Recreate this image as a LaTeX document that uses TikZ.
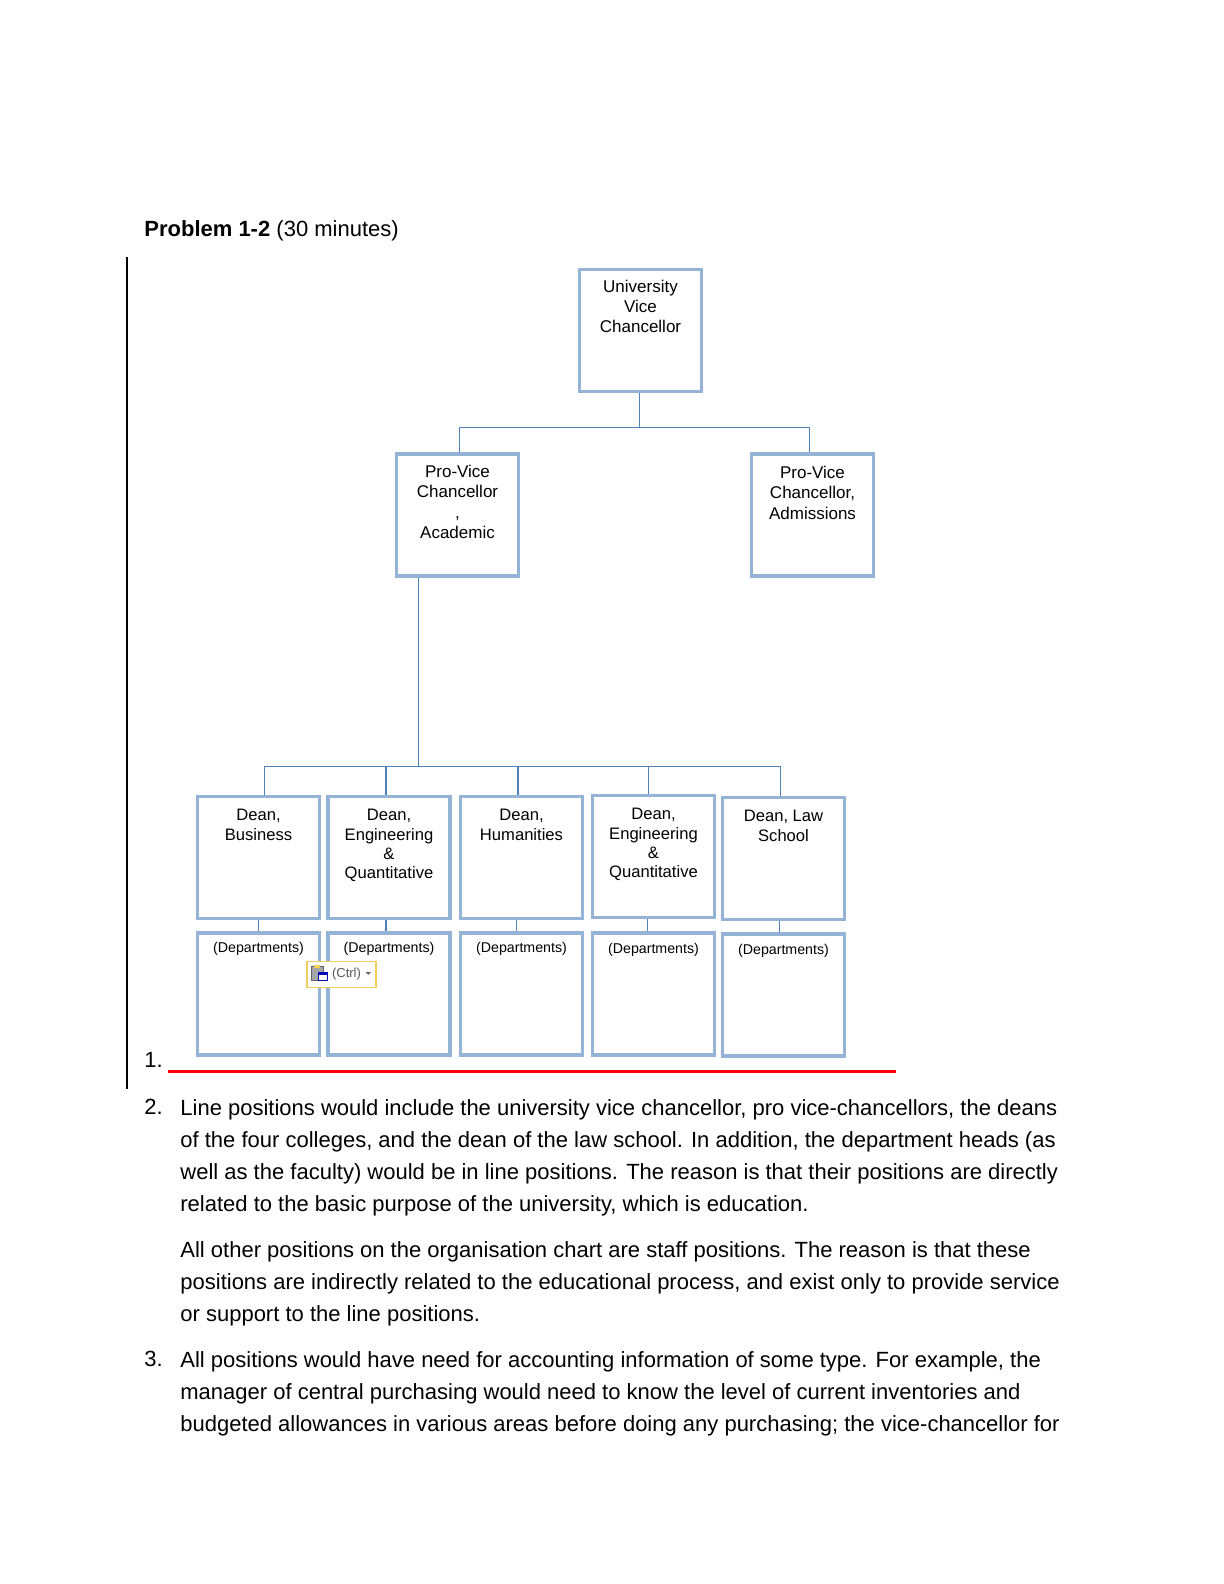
\documentclass[tikz,border=0pt]{standalone}
\usepackage{fontspec}
\setmainfont{Liberation Sans}
\usepackage{xcolor}
\usetikzlibrary{arrows.meta, positioning, calc}
\definecolor{boxblue}{HTML}{95B3D7}
\definecolor{linkblue}{HTML}{4F81BD}
\definecolor{ctrlyellow}{HTML}{F2CF5B}
\newcommand{\boxlines}[4]{\parbox[c][58pt][t]{60pt}{\centering\fontsize{#1}{#2}\selectfont\vspace*{#3}#4}}

\begin{document}
\begin{tikzpicture}[x=0.5pt, y=-0.5pt, node distance=65pt, auto]
\tikzstyle{orgbox}=[rectangle, draw=boxblue, line width=1.7pt, fill=white,
  minimum width=61pt, minimum height=61pt, inner sep=0pt]
\tikzstyle{link}=[draw=linkblue, line width=0.5pt]
\tikzstyle{thicklink}=[draw=linkblue, line width=1pt]
\tikzstyle{bodytext}=[anchor=north west, inner sep=0pt, align=left,
  font=\fontsize{11}{16.1}\selectfont]

\useasboundingbox (0,0) rectangle (1224,1584);

\node (title) [bodytext] at (144,220) {\textbf{Problem 1-2} (30 minutes)};
\draw [black, line width=1pt] (127,257) -- (127,1089);

\node (vc) [orgbox] at (640.5,330.5)
  {\boxlines{8.5}{10}{4pt}{University\\Vice\\Chancellor}};
\node (acad) [orgbox, below of=vc, xshift=-91.5pt, yshift=-27.25pt]
  {\boxlines{8.5}{10.2}{4pt}{Pro-Vice\\Chancellor\\,\\Academic}};
\node (adm) [orgbox, right of=acad, xshift=112.5pt]
  {\boxlines{8.5}{10.2}{4.5pt}{Pro-Vice\\Chancellor,\\Admissions}};

\node (bus) [orgbox, below of=acad, xshift=-99.5pt, yshift=-106.25pt]
  {\boxlines{8.3}{9.6}{5pt}{Dean,\\Business}};
\node (eng) [orgbox, right of=bus, xshift=0.25pt]
  {\boxlines{8.3}{9.6}{5pt}{Dean,\\Engineering\\\&\\Quantitative}};
\node (hum) [orgbox, right of=eng, xshift=1.25pt]
  {\boxlines{8.3}{9.6}{5pt}{Dean,\\Humanities}};
\node (quant) [orgbox, right of=hum, xshift=1pt, yshift=0.5pt]
  {\boxlines{8.3}{9.6}{5pt}{Dean,\\Engineering\\\&\\Quantitative}};
\node (law) [orgbox, right of=quant, yshift=-1pt]
  {\boxlines{8.3}{9.6}{5pt}{Dean, Law\\School}};

\node (busdept) [orgbox, below of=bus, yshift=-3.25pt]
  {\boxlines{7.1}{9}{3.25pt}{(Departments)}};
\node (engdept) [orgbox, below of=eng, yshift=-3.25pt]
  {\boxlines{7.1}{9}{3pt}{(Departments)}};
\node (humdept) [orgbox, below of=hum, yshift=-3.25pt]
  {\boxlines{7.1}{9}{3pt}{(Departments)}};
\node (quantdept) [orgbox, below of=quant, yshift=-3.75pt]
  {\boxlines{7.1}{9}{3.5pt}{(Departments)}};
\node (lawdept) [orgbox, below of=law, yshift=-3.25pt]
  {\boxlines{7.1}{9}{3.5pt}{(Departments)}};

\coordinate (vcjoin) at (639,427);
\coordinate (deanjoin) at (418,766);

\draw [link] ([xshift=-0.75pt]vc.south) -- (vcjoin);
\draw [link] (vcjoin) -| ([xshift=0.75pt]acad.north);
\draw [link] (vcjoin) -| ([xshift=-1.75pt]adm.north);

\draw [link] ([xshift=-19.75pt]acad.south) -- (deanjoin);
\draw [link] (deanjoin) -| ([xshift=2.75pt]bus.north);
\draw [link] (deanjoin) -| ([xshift=-1.75pt]law.north);
\draw [thicklink] ([xshift=-1.5pt]eng.north) -- ([xshift=-1.5pt]eng.north |- deanjoin);
\draw [thicklink] ([xshift=-1.75pt]hum.north) -- ([xshift=-1.75pt]hum.north |- deanjoin);
\draw [link] ([xshift=-2.75pt]quant.north) -- ([xshift=-2.75pt]quant.north |- deanjoin);

\draw [link] (bus.south) -- (busdept.north);
\draw [thicklink] ([xshift=-1.5pt]eng.south) -- ([xshift=-1.5pt]engdept.north);
\draw [link] ([xshift=-2.75pt]hum.south) -- ([xshift=-2.75pt]humdept.north);
\draw [link] ([xshift=-3.25pt]quant.south) -- ([xshift=-3.25pt]quantdept.north);
\draw [link] ([xshift=-2.25pt]law.south) -- ([xshift=-2.25pt]lawdept.north);

\node (ctrl) [rectangle, draw=ctrlyellow, line width=0.75pt, fill=white, anchor=north west,
  minimum width=34.5pt, minimum height=13pt, inner sep=0pt] at (306,960.5) {};
\node (ctrltext) [text=black!65, font=\fontsize{6.5}{7}\selectfont, inner sep=0pt] at (346.5,974) {(Ctrl)};
\fill [black!35, draw=black!60, line width=0.3pt] (311,966) rectangle (323,980);
\fill [ctrlyellow] (314,964.5) rectangle (320,968);
\fill [white, draw=blue!70!black, line width=0.4pt] (318,972) rectangle (327.5,980.5);
\fill [blue!70!black] (318,972) rectangle (327.5,975);
\fill [black!60] (365.5,972) -- (371,972) -- (368.25,975) -- cycle;

\node (one) [bodytext] at (144,1052) {1.};
\draw [red, line width=1.5pt] (167.5,1071) -- (896,1071);

\node (two) [bodytext] at (144,1099) {2.};
\node (para2) [bodytext] at (180,1099)
  {Line positions would include the university vice chancellor, pro vice-chancellors, the deans\\
   of the four colleges, and the dean of the law school. In addition, the department heads (as\\
   well as the faculty) would be in line positions. The reason is that their positions are directly\\
   related to the basic purpose of the university, which is education.};
\node (para2b) [bodytext] at (180,1241)
  {All other positions on the organisation chart are staff positions. The reason is that these\\
   positions are indirectly related to the educational process, and exist only to provide service\\
   or support to the line positions.};
\node (three) [bodytext] at (144,1351) {3.};
\node (para3) [bodytext] at (180,1351)
  {All positions would have need for accounting information of some type. For example, the\\
   manager of central purchasing would need to know the level of current inventories and\\
   budgeted allowances in various areas before doing any purchasing; the vice-chancellor for};
\end{tikzpicture}
\end{document}
